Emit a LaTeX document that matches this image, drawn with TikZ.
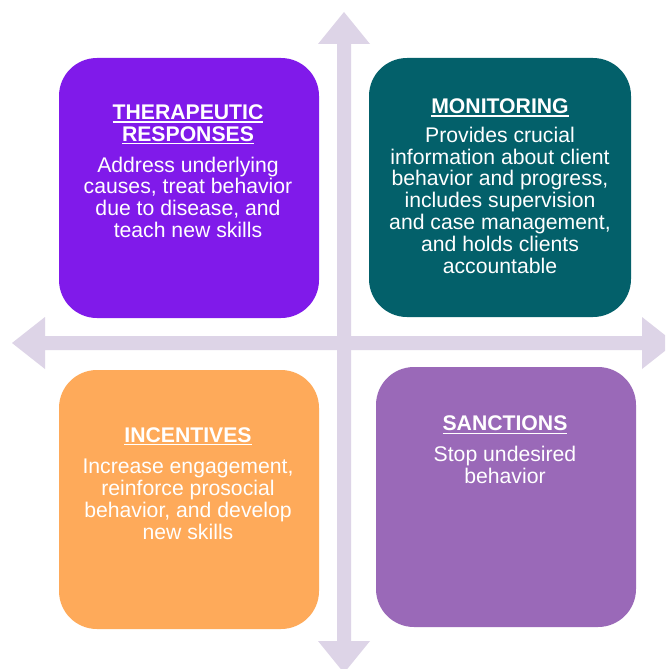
\documentclass[tikz,border=0pt]{standalone}
\usepackage{fontspec}
\setmainfont{Liberation Sans}
\newcommand\ulx[1]{\setbox0\hbox{#1}\rlap{\rule[-3.3pt]{\wd0}{1.6pt}}\box0}
\newcommand\ttl[1]{{\bfseries\ulx{#1}}}
\definecolor{arrowc}{HTML}{DDD4E7}
\definecolor{cviolet}{HTML}{801AEA}
\definecolor{cteal}{HTML}{03606A}
\definecolor{corange}{HTML}{FEAA5A}
\definecolor{cpurple}{HTML}{9A69B8}
\tikzset{
  qtext/.style={text=white, align=center, anchor=base, inner sep=0pt,
    font=\fontsize{21.2}{21.8}\selectfont},
}
\begin{document}
\begin{tikzpicture}[x=1pt,y=-1pt]
\clip (0,0) rectangle (665,669);
\fill[white] (0,0) rectangle (665,669);
% horizontal double arrow
\fill[arrowc] (12,343) -- (45,317) -- (45,336) -- (642,336) -- (642,317) -- (675,343)
  -- (642,369) -- (642,350) -- (45,350) -- (45,369) -- cycle;
% vertical double arrow
\fill[arrowc] (344,12) -- (370,44) -- (351,44) -- (351,641) -- (370,641) -- (344,673)
  -- (318,641) -- (337,641) -- (337,44) -- (318,44) -- cycle;
% boxes
\fill[cviolet, rounded corners=38pt] (59,58) rectangle (319,318);
\fill[cteal, rounded corners=38pt] (369,58) rectangle (631,317);
\fill[corange, rounded corners=38pt] (59,370) rectangle (319,629);
\fill[cpurple, rounded corners=38pt] (376,367) rectangle (636,627);
% texts (anchor = baseline of the last line)
\node[qtext] (tr) at (188,237.5) {\ttl{THERAPEUTIC}\\\ttl{RESPONSES}\\[9.2pt]
  Address underlying\\causes, treat behavior\\due to disease, and\\teach new skills};
\node[qtext] (mo) at (500,273) {\ttl{MONITORING}\\[7.2pt]
  Provides crucial\\information about client\\behavior and progress,\\includes supervision\\and case management,\\and holds clients\\accountable};
\node[qtext] (in) at (188,539) {\ttl{INCENTIVES}\\[9.8pt]
  Increase engagement,\\reinforce prosocial\\behavior, and develop\\new skills};
\node[qtext] (sa) at (505,483) {\ttl{SANCTIONS}\\[8.6pt]
  Stop undesired\\behavior};
\end{tikzpicture}
\end{document}
